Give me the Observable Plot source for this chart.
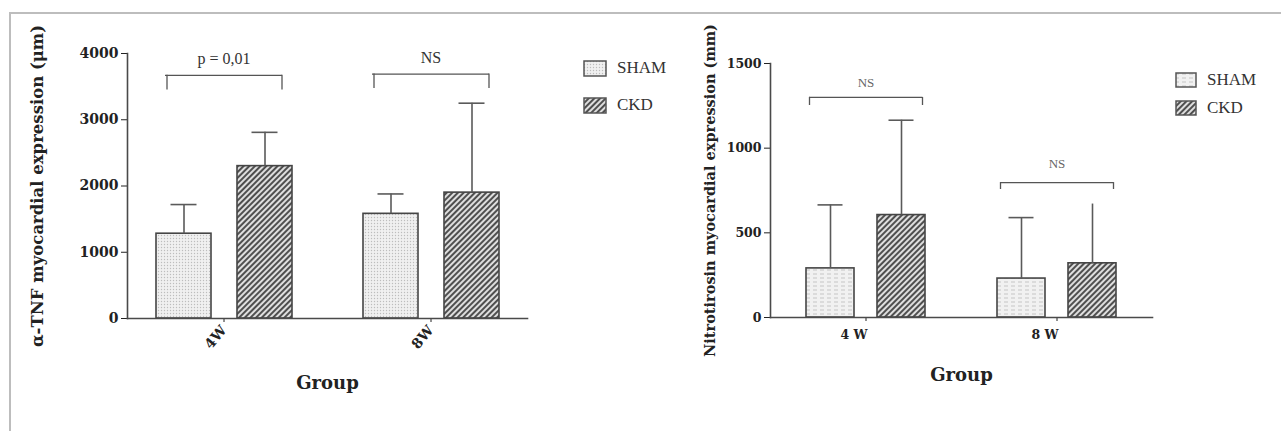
<!DOCTYPE html>
<html>
<head>
<meta charset="utf-8">
<script src="https://cdn.jsdelivr.net/npm/d3@7"></script>
<script src="https://cdn.jsdelivr.net/npm/@observablehq/plot@0.6"></script>
<style>
  html, body { margin: 0; padding: 0; background: #fff; }
  #wrap { position: relative; width: 1281px; height: 431px; overflow: hidden; background: #fff; }
  #border { position: absolute; left: 9px; top: 12px; width: 1280px; height: 430px;
            border-top: 2px solid #bdbdbd; border-left: 2px solid #bdbdbd; box-sizing: border-box; }
  .chart { position: absolute; top: 0; }
  #left { left: 0; }
  #right { left: 680px; }
  .legend { position: absolute; font-family: "Liberation Serif", serif; color: #333; font-size: 17px; }
  .legend .item { display: flex; align-items: center; height: 16px; position: absolute; white-space: nowrap; }
  .legend svg { margin-right: 10px; }
  #left g[aria-label="y-axis label"] text { font-size: 16.5px; }
  #left g[aria-label="fx-axis label"] text { font-size: 18px; }
  #right g[aria-label="y-axis label"] text { font-size: 14.5px; }
  #right g[aria-label="fx-axis label"] text { font-size: 18px; }
</style>
</head>
<body>
<div id="wrap">
  <div id="border"></div>
  <svg width="0" height="0" style="position:absolute">
    <defs>
      <pattern id="shamDots" patternUnits="userSpaceOnUse" width="3" height="3">
        <rect width="3" height="3" fill="#f0f0f0"/>
        <circle cx="1.5" cy="1.5" r="0.7" fill="#bdbdbd"/>
      </pattern>
      <pattern id="shamDash" patternUnits="userSpaceOnUse" width="7" height="4">
        <rect width="7" height="4" fill="#f1f1f1"/>
        <rect x="0" y="1.5" width="4" height="1" fill="#c6c6c6"/>
      </pattern>
      <pattern id="ckdHatch" patternUnits="userSpaceOnUse" width="4" height="4" patternTransform="rotate(45)">
        <rect width="4" height="4" fill="#dedede"/>
        <rect width="2" height="4" fill="#4f4f4f"/>
      </pattern>
    </defs>
  </svg>
  <div id="left" class="chart"></div>
  <div id="right" class="chart"></div>
  <div id="legendL" class="legend" style="left:583px; top:60px;"></div>
  <div id="legendR" class="legend" style="left:1175px; top:72px;"></div>
</div>
<script>
// ---------- data ----------
const series = ["SHAM", "CKD"];

// Left panel: alpha-TNF
const tnfGroups = ["4W", "8W"];
const tnfSham = [1280, 1580];
const tnfShamSD = [440, 300];
const tnfCkd = [2300, 1900];
const tnfCkdSD = [510, 1350];
const tnfTicks = [0, 1000, 2000, 3000, 4000];
const tnfSigLabels = ["p = 0,01", "NS"];
const tnfSigY = [3925, 3940];
const tnfBracketTop = [3670, 3690];
const tnfBracketDrop = [3450, 3470];
const tnfYLabel = "α-TNF myocardial expression (μm)";

// Right panel: Nitrotirosin
const nitroGroups = ["4 W", "8 W"];
const nitroSham = [290, 230];
const nitroShamSD = [375, 360];
const nitroCkd = [605, 320];
const nitroCkdSD = [560, 350];
const nitroCkdCap = [true, false];
const nitroTicks = [0, 500, 1000, 1500];
const nitroSigLabels = ["NS", "NS"];
const nitroSigY = [1388, 910];
const nitroBracketTop = [1300, 797];
const nitroBracketDrop = [1252, 756];
const nitroYLabel = "Nitrotirosin myocardial expression (mm)";

const xLabel = "Group";

// ---------- helpers ----------
function buildRows(groups, sham, shamSD, ckd, ckdSD, ckdCap) {
  const rows = [];
  groups.forEach((g, i) => {
    rows.push({group: g, series: series[0], mean: sham[i], sd: shamSD[i], cap: true});
    rows.push({group: g, series: series[1], mean: ckd[i], sd: ckdSD[i], cap: ckdCap ? ckdCap[i] : true});
  });
  return rows;
}
function buildBrackets(groups, top, drop, labels, labelY) {
  return groups.map((g, i) => ({group: g, top: top[i], drop: drop[i], label: labels[i], labelY: labelY[i]}));
}

const axisColor = "#4a4a4a";

function panel(o) {
  const rows = buildRows(o.groups, o.sham, o.shamSD, o.ckd, o.ckdSD, o.ckdCap);
  const brackets = buildBrackets(o.groups, o.bTop, o.bDrop, o.sig, o.sigY);
  return Plot.plot({
    width: o.width, height: 431,
    marginLeft: o.ml, marginRight: o.mr, marginTop: o.mt, marginBottom: o.mb,
    style: {fontFamily: "'DejaVu Serif', serif", fontWeight: "bold", fontSize: o.tickFont, color: "#222", background: "transparent", overflow: "visible"},
    fx: {domain: o.groups, axis: "bottom", paddingInner: o.fxPi, paddingOuter: 0, label: xLabel, labelAnchor: "center",
         labelOffset: o.fxLabelOffset, tickRotate: o.rot, tickSize: 4, tickPadding: o.fxPad},
    x: {domain: series, paddingInner: o.xPi, paddingOuter: o.xPo, axis: null},
    y: {domain: [0, o.ticks[o.ticks.length - 1]], ticks: o.ticks, tickFormat: d => String(d), tickSize: 6, tickPadding: 3,
        label: o.yLabel, labelAnchor: "center", labelOffset: o.yLabelOffset, labelArrow: "none"},
    color: {domain: series, range: o.fills},
    marks: [
      Plot.barY(rows, {fx: "group", x: "series", y: "mean", fill: "series", stroke: "#454545", strokeWidth: 1.6}),
      Plot.ruleX(rows, {fx: "group", x: "series", y1: "mean", y2: d => d.mean + d.sd, stroke: "#5a5a5a", strokeWidth: 1.6}),
      Plot.tickY(rows.filter(d => d.cap), {fx: "group", x: "series", y: d => d.mean + d.sd, stroke: "#5a5a5a", strokeWidth: 1.6,
        insetLeft: o.capInset, insetRight: o.capInset}),
      Plot.ruleY(brackets, {fx: "group", y: "top", stroke: "#555", strokeWidth: 1.3, insetLeft: o.bInset, insetRight: o.bInset}),
      Plot.ruleX(brackets, {fx: "group", x: () => series[0], y1: "drop", y2: "top", dx: -o.bDx, stroke: "#555", strokeWidth: 1.3}),
      Plot.ruleX(brackets, {fx: "group", x: () => series[1], y1: "drop", y2: "top", dx: o.bDx, stroke: "#555", strokeWidth: 1.3}),
      Plot.text(brackets, {fx: "group", y: "labelY", text: "label", fontWeight: "normal", fontSize: o.sigFont,
        fontFamily: "'Liberation Serif', serif", fill: o.sigColor}),
      Plot.frame({anchor: "bottom", facet: "super", stroke: axisColor, strokeWidth: 1.6}),
      Plot.frame({anchor: "left", facet: "super", stroke: axisColor, strokeWidth: 1.6})
    ]
  });
}

const leftPlot = panel({
  width: 680, ml: 126, mr: 153, mt: 53, mb: 113,
  groups: tnfGroups, sham: tnfSham, shamSD: tnfShamSD, ckd: tnfCkd, ckdSD: tnfCkdSD, ckdCap: null,
  ticks: tnfTicks, yLabel: tnfYLabel, yLabelOffset: 96, fxLabelOffset: 70, rot: -50, fxPad: 5,
  fxPi: 0.07, xPi: 0.325, xPo: 0.35, capInset: 14.5, bInset: 38, bDx: 17,
  bTop: tnfBracketTop, bDrop: tnfBracketDrop, sig: tnfSigLabels, sigY: tnfSigY,
  fills: ["url(#shamDots)", "url(#ckdHatch)"], tickFont: "14px", sigFont: 16, sigColor: "#333"
});
const rightPlot = panel({
  width: 601, ml: 90, mr: 129, mt: 63, mb: 114,
  groups: nitroGroups, sham: nitroSham, shamSD: nitroShamSD, ckd: nitroCkd, ckdSD: nitroCkdSD, ckdCap: nitroCkdCap,
  ticks: nitroTicks, yLabel: nitroYLabel, yLabelOffset: 66, fxLabelOffset: 63, rot: 0, fxPad: 9,
  fxPi: 0, xPi: 0.324, xPo: 0.507, capInset: 11.5, bInset: 39, bDx: 21,
  bTop: nitroBracketTop, bDrop: nitroBracketDrop, sig: nitroSigLabels, sigY: nitroSigY,
  fills: ["url(#shamDash)", "url(#ckdHatch)"], tickFont: "12.5px", sigFont: 13, sigColor: "#666"
});
// nudge the right panel's group labels slightly left, as in the original
d3.select(rightPlot).selectAll('g[aria-label="fx-axis tick label"] text').attr("dx", -12);
document.getElementById("left").appendChild(leftPlot);
document.getElementById("right").appendChild(rightPlot);

// ---------- legends ----------
function legend(el, fills, rowGap, boxW, boxH) {
  series.forEach((s, i) => {
    const item = document.createElement("div");
    item.className = "item";
    item.style.top = (i * rowGap) + "px";
    item.innerHTML = `<svg width="${boxW + 2}" height="${boxH + 2}"><rect x="1" y="1" width="${boxW}" height="${boxH}" fill="${fills[i]}" stroke="#555" stroke-width="1.5"/></svg><span>${s}</span>`;
    document.getElementById(el).appendChild(item);
  });
}
legend("legendL", ["url(#shamDots)", "url(#ckdHatch)"], 37, 22, 15);
legend("legendR", ["url(#shamDash)", "url(#ckdHatch)"], 28, 20, 14);
</script>
</body>
</html>
